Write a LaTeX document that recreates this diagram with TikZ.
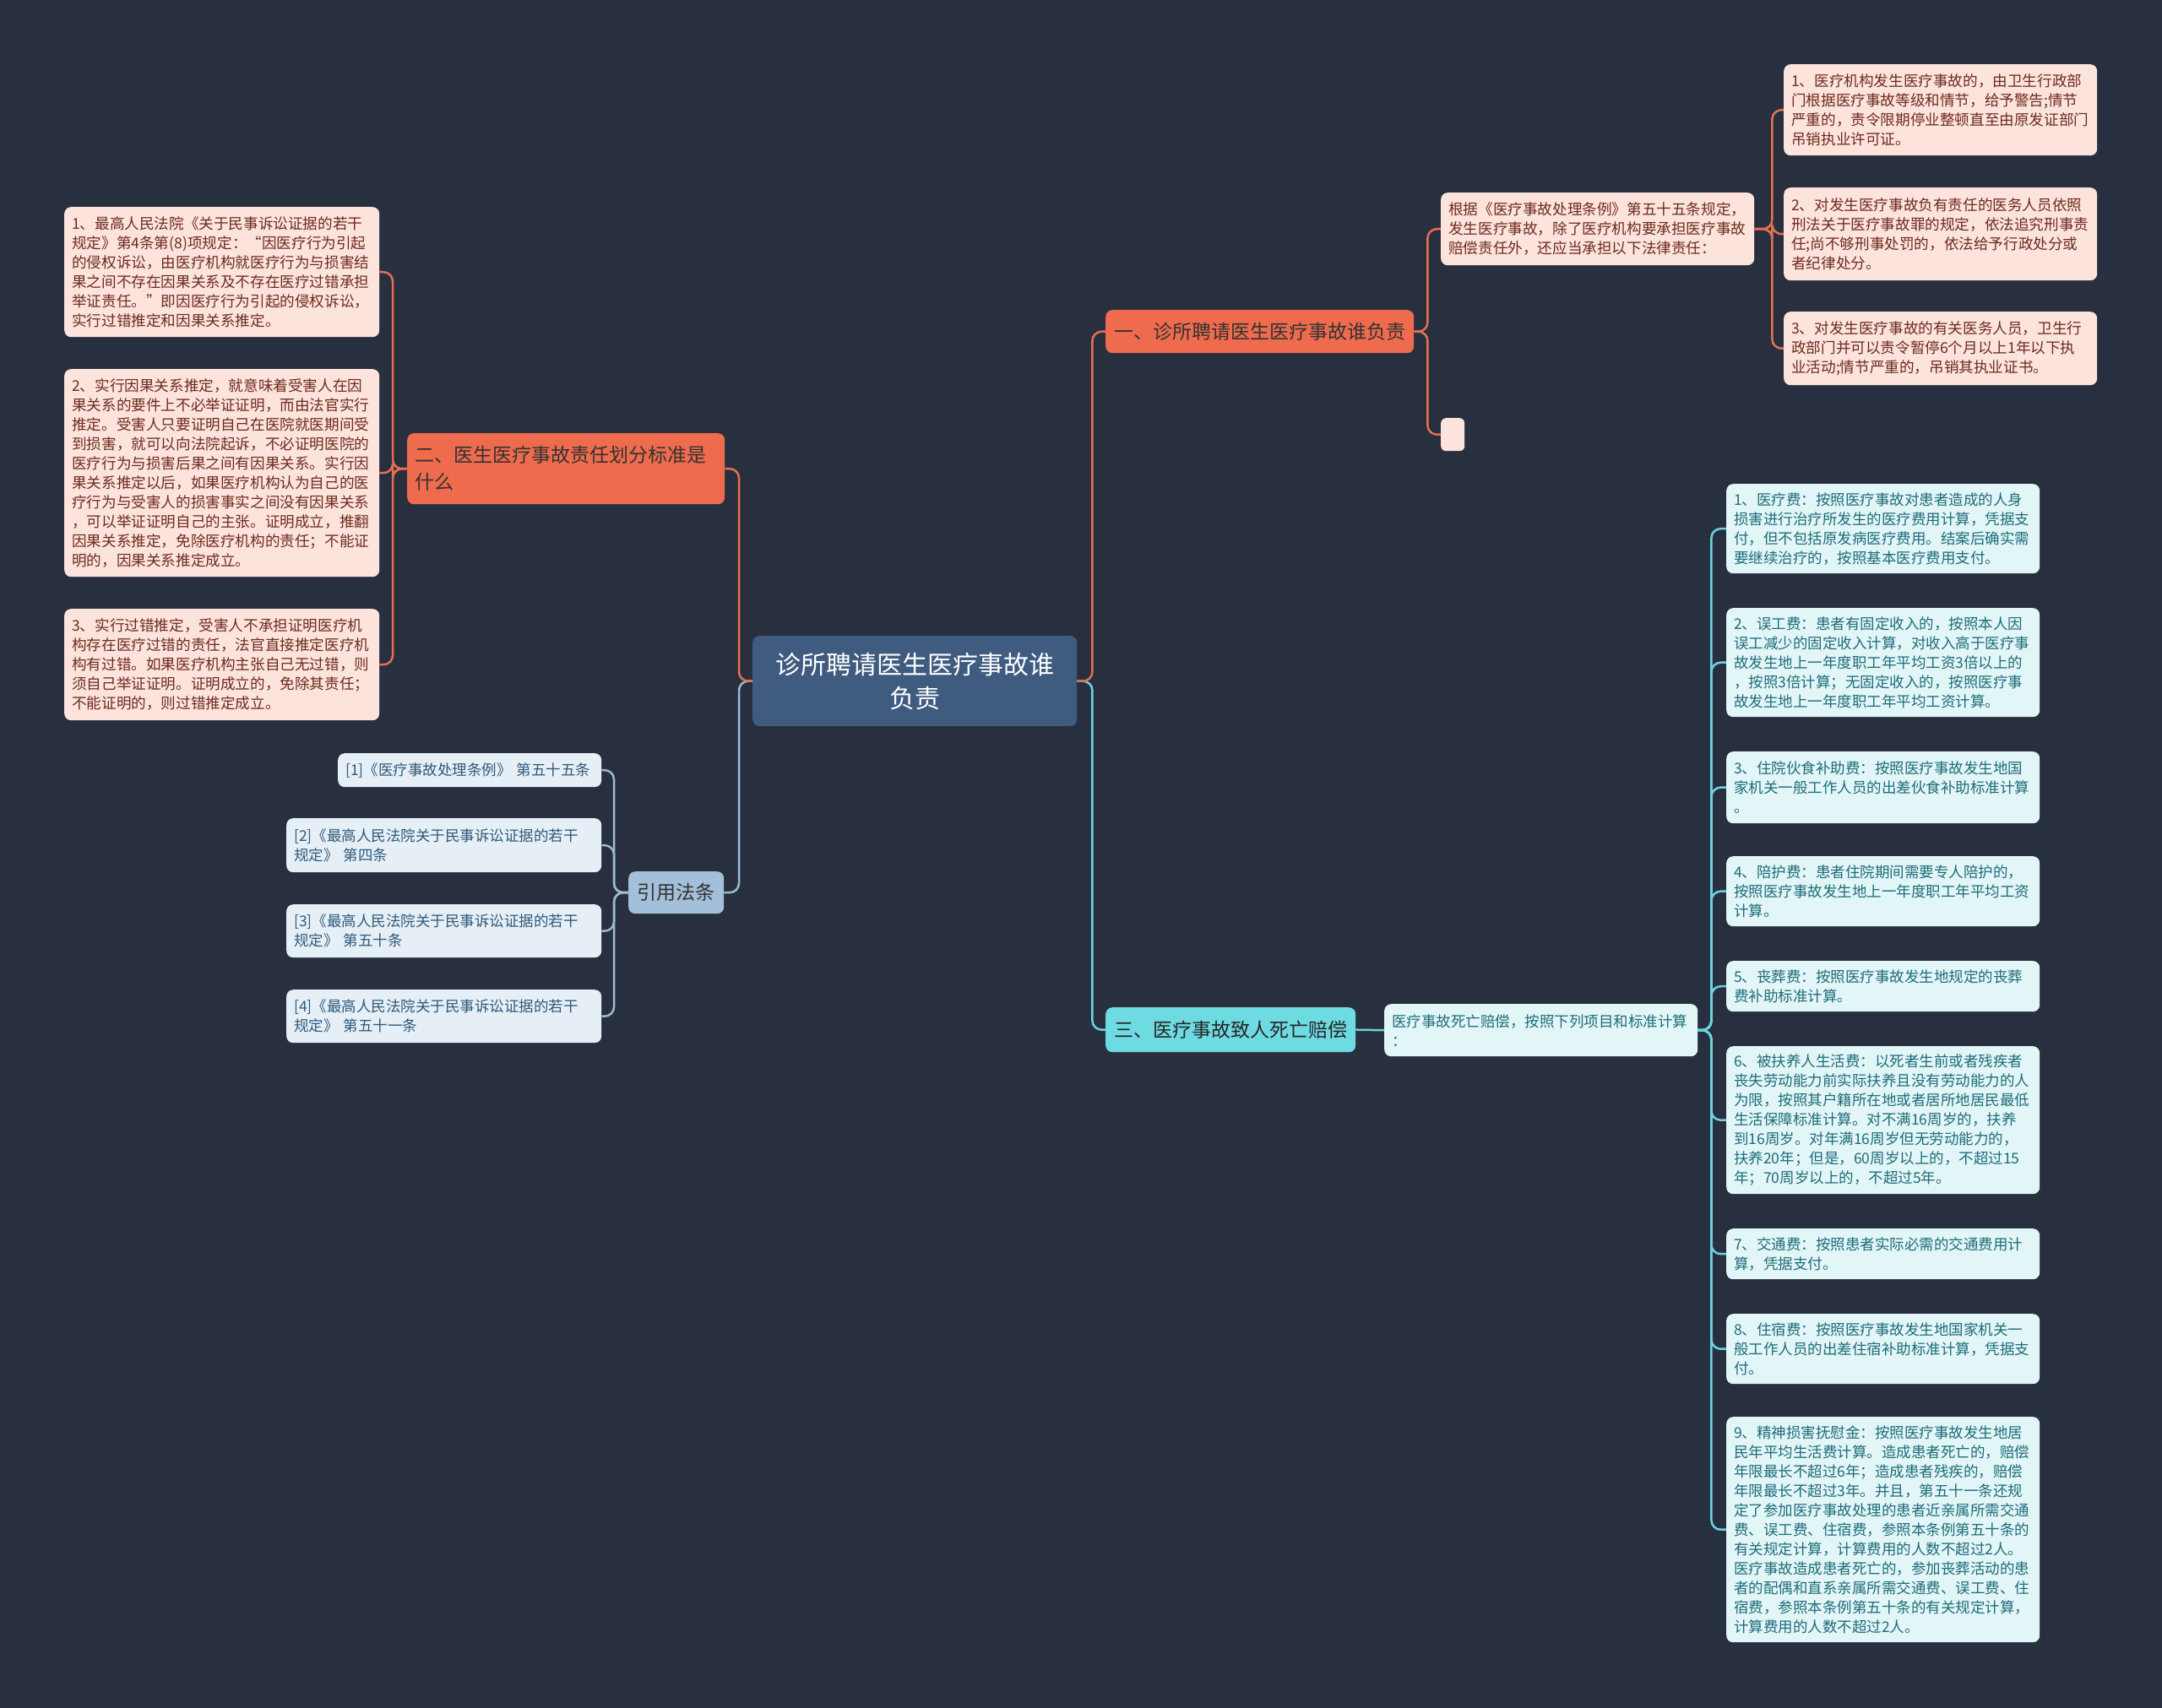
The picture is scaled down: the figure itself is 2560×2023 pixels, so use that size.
\documentclass[tikz,border=0pt]{standalone}
\usepackage{fontspec}
\setmainfont{Noto Sans CJK SC}
\usetikzlibrary{positioning}
\definecolor{bg}{HTML}{282F3E}
\definecolor{rootblue}{HTML}{3F5B80}
\definecolor{orangefill}{HTML}{EE6B4D}
\definecolor{orangeline}{HTML}{E5704F}
\definecolor{pinkfill}{HTML}{FCE4DD}
\definecolor{pinktext}{HTML}{6E2A1E}
\definecolor{cyanfill}{HTML}{6EDBE3}
\definecolor{cyanline}{HTML}{6CD4DF}
\definecolor{cyanleaf}{HTML}{E2F6F8}
\definecolor{cyantext}{HTML}{1E6C78}
\definecolor{bluefill}{HTML}{A3BFD9}
\definecolor{blueline}{HTML}{9CB9D3}
\definecolor{blueleaf}{HTML}{E7EFF6}
\definecolor{bluetext}{HTML}{2D5A7C}
\tikzset{
  topicbox/.style = {rounded corners=8pt, anchor=north west, inner xsep=9pt, inner ysep=4pt, align=left},
  rootbox/.style = {topicbox, fill=rootblue, text=white, align=center, font=\fontsize{30}{40}\selectfont},
  orangetopic/.style = {topicbox, fill=orangefill, text=black!80, font=\fontsize{23}{32}\selectfont},
  cyantopic/.style = {topicbox, fill=cyanfill, text=black!85, font=\fontsize{23}{32}\selectfont},
  bluetopic/.style = {topicbox, fill=bluefill, text=black!80, font=\fontsize{23}{32}\selectfont},
  pinkleaf/.style = {topicbox, fill=pinkfill, text=pinktext, text width=353pt, font=\fontsize{17.6}{23}\selectfont},
  leftleaf/.style = {pinkleaf, text width=355pt},
  cyanleafbox/.style = {topicbox, fill=cyanleaf, text=cyantext, text width=353pt, font=\fontsize{17.5}{23}\selectfont},
  blueleafbox/.style = {topicbox, fill=blueleaf, text=bluetext, text width=355pt, font=\fontsize{17.5}{23}\selectfont},
  orangelink/.style = {draw=orangeline, line width=2.5pt, rounded corners=11pt},
  cyanlink/.style = {draw=cyanline, line width=2.5pt, rounded corners=11pt},
  bluelink/.style = {draw=blueline, line width=2.5pt, rounded corners=11pt}
}

\begin{document}
\begin{tikzpicture}[x=1pt, y=-1pt]
  \fill[bg] (0,0) rectangle (2560,2023);
  \useasboundingbox (0,0) rectangle (2560,2023);

  \node[rootbox, minimum width=384pt, minimum height=107pt] (root) at (891,753) {诊所聘请医生医疗事故谁\\负责};

  \node[orangetopic, minimum width=365pt, minimum height=51pt] (yi) at (1309,367) {一、诊所聘请医生医疗事故谁负责};
  \node[orangetopic, text width=358pt, minimum width=376pt, minimum height=84pt] (er) at (482,513) {二、医生医疗事故责任划分标准是\\什么};
  \node[cyantopic, minimum width=296pt, minimum height=53pt] (san) at (1309,1193) {三、医疗事故致人死亡赔偿};
  \node[bluetopic, minimum width=113pt, minimum height=50pt] (yinyong) at (744,1032) {引用法条};

  \node[pinkleaf, minimum width=371pt, minimum height=86pt] (rule) at (1706,228) {根据《医疗事故处理条例》第五十五条规定，\\发生医疗事故，除了医疗机构要承担医疗事故\\赔偿责任外，还应当承担以下法律责任：};
  \node[topicbox, fill=pinkfill, minimum width=28pt, minimum height=39pt, inner sep=0pt, rounded corners=6pt] (blank) at (1706,495) {};

  \node[pinkleaf, minimum width=371pt, minimum height=108pt] (duty1) at (2112,76) {1、医疗机构发生医疗事故的，由卫生行政部\\门根据医疗事故等级和情节，给予警告;情节\\严重的，责令限期停业整顿直至由原发证部门\\吊销执业许可证。};
  \node[pinkleaf, minimum width=371pt, minimum height=110pt] (duty2) at (2112,222) {2、对发生医疗事故负有责任的医务人员依照\\刑法关于医疗事故罪的规定，依法追究刑事责\\任;尚不够刑事处罚的，依法给予行政处分或\\者纪律处分。};
  \node[pinkleaf, minimum width=371pt, minimum height=87pt] (duty3) at (2112,369) {3、对发生医疗事故的有关医务人员，卫生行\\政部门并可以责令暂停6个月以上1年以下执\\业活动;情节严重的，吊销其执业证书。};

  \node[leftleaf, minimum width=372pt, minimum height=154pt] (view1) at (76,245) {1、最高人民法院《关于民事诉讼证据的若干\\规定》第4条第(8)项规定：“因医疗行为引起\\的侵权诉讼，由医疗机构就医疗行为与损害结\\果之间不存在因果关系及不存在医疗过错承担\\举证责任。”即因医疗行为引起的侵权诉讼，\\实行过错推定和因果关系推定。};
  \node[leftleaf, minimum width=372pt, minimum height=246pt] (view2) at (76,437) {2、实行因果关系推定，就意味着受害人在因\\果关系的要件上不必举证证明，而由法官实行\\推定。受害人只要证明自己在医院就医期间受\\到损害，就可以向法院起诉，不必证明医院的\\医疗行为与损害后果之间有因果关系。实行因\\果关系推定以后，如果医疗机构认为自己的医\\疗行为与受害人的损害事实之间没有因果关系\\，可以举证证明自己的主张。证明成立，推翻\\因果关系推定，免除医疗机构的责任；不能证\\明的，因果关系推定成立。};
  \node[leftleaf, minimum width=372pt, minimum height=132pt] (view3) at (76,721) {3、实行过错推定，受害人不承担证明医疗机\\构存在医疗过错的责任，法官直接推定医疗机\\构有过错。如果医疗机构主张自己无过错，则\\须自己举证证明。证明成立的，免除其责任；\\不能证明的，则过错推定成立。};

  \node[blueleafbox, text width=294pt, minimum width=312pt, minimum height=40pt] (ref1) at (400,892) {[1]《医疗事故处理条例》 第五十五条};
  \node[blueleafbox, minimum width=373pt, minimum height=64pt] (ref2) at (339,969) {[2]《最高人民法院关于民事诉讼证据的若干\\规定》 第四条};
  \node[blueleafbox, minimum width=373pt, minimum height=63pt] (ref3) at (339,1071) {[3]《最高人民法院关于民事诉讼证据的若干\\规定》 第五十条};
  \node[blueleafbox, minimum width=373pt, minimum height=63pt] (ref4) at (339,1172) {[4]《最高人民法院关于民事诉讼证据的若干\\规定》 第五十一条};

  \node[cyanleafbox, minimum width=371pt, minimum height=62pt] (death) at (1639,1189) {医疗事故死亡赔偿，按照下列项目和标准计算\\：};

  \node[cyanleafbox, minimum width=371pt, minimum height=106pt] (fee1) at (2044,573) {1、医疗费：按照医疗事故对患者造成的人身\\损害进行治疗所发生的医疗费用计算，凭据支\\付，但不包括原发病医疗费用。结案后确实需\\要继续治疗的，按照基本医疗费用支付。};
  \node[cyanleafbox, minimum width=371pt, minimum height=129pt] (fee2) at (2044,720) {2、误工费：患者有固定收入的，按照本人因\\误工减少的固定收入计算，对收入高于医疗事\\故发生地上一年度职工年平均工资3倍以上的\\，按照3倍计算；无固定收入的，按照医疗事\\故发生地上一年度职工年平均工资计算。};
  \node[cyanleafbox, minimum width=371pt, minimum height=85pt] (fee3) at (2044,890) {3、住院伙食补助费：按照医疗事故发生地国\\家机关一般工作人员的出差伙食补助标准计算\\。};
  \node[cyanleafbox, minimum width=371pt, minimum height=83pt] (fee4) at (2044,1014) {4、陪护费：患者住院期间需要专人陪护的，\\按照医疗事故发生地上一年度职工年平均工资\\计算。};
  \node[cyanleafbox, minimum width=371pt, minimum height=60pt] (fee5) at (2044,1138) {5、丧葬费：按照医疗事故发生地规定的丧葬\\费补助标准计算。};
  \node[cyanleafbox, minimum width=371pt, minimum height=175pt] (fee6) at (2044,1239) {6、被扶养人生活费：以死者生前或者残疾者\\丧失劳动能力前实际扶养且没有劳动能力的人\\为限，按照其户籍所在地或者居所地居民最低\\生活保障标准计算。对不满16周岁的，扶养\\到16周岁。对年满16周岁但无劳动能力的，\\扶养20年；但是，60周岁以上的，不超过15\\年；70周岁以上的，不超过5年。};
  \node[cyanleafbox, minimum width=371pt, minimum height=60pt] (fee7) at (2044,1455) {7、交通费：按照患者实际必需的交通费用计\\算，凭据支付。};
  \node[cyanleafbox, minimum width=371pt, minimum height=83pt] (fee8) at (2044,1556) {8、住宿费：按照医疗事故发生地国家机关一\\般工作人员的出差住宿补助标准计算，凭据支\\付。};
  \node[cyanleafbox, minimum width=371pt, minimum height=267pt] (fee9) at (2044,1678) {9、精神损害抚慰金：按照医疗事故发生地居\\民年平均生活费计算。造成患者死亡的，赔偿\\年限最长不超过6年；造成患者残疾的，赔偿\\年限最长不超过3年。并且，第五十一条还规\\定了参加医疗事故处理的患者近亲属所需交通\\费、误工费、住宿费，参照本条例第五十条的\\有关规定计算，计算费用的人数不超过2人。\\医疗事故造成患者死亡的，参加丧葬活动的患\\者的配偶和直系亲属所需交通费、误工费、住\\宿费，参照本条例第五十条的有关规定计算，\\计算费用的人数不超过2人。};

  \draw[cyanlink] (root.east) -- ++(18,0) |- (san.west);
  \draw[orangelink] (root.east) -- ++(18,0) |- (yi.west);
  \draw[bluelink] (root.west) -- ++(-16,0) |- (yinyong.east);
  \draw[orangelink] (root.west) -- ++(-16,0) |- (er.east);

  \draw[orangelink] (yi.east) -- ++(16,0) |- (rule.west);
  \draw[orangelink] (yi.east) -- ++(16,0) |- (blank.west);
  \foreach \n in {1,2,3} {
    \draw[orangelink] (rule.east) -- ++(21,0) |- (duty\n.west);
    \draw[orangelink] (er.west) -- ++(-17,0) |- (view\n.east);
  }
  \foreach \n in {1,...,4}
    \draw[bluelink] (yinyong.west) -- ++(-17,0) |- (ref\n.east);

  \draw[cyanlink] (san.east) -- (death.west);
  \foreach \n in {1,...,9}
    \draw[cyanlink] (death.east) -- ++(16,0) |- (fee\n.west);
\end{tikzpicture}
\end{document}
